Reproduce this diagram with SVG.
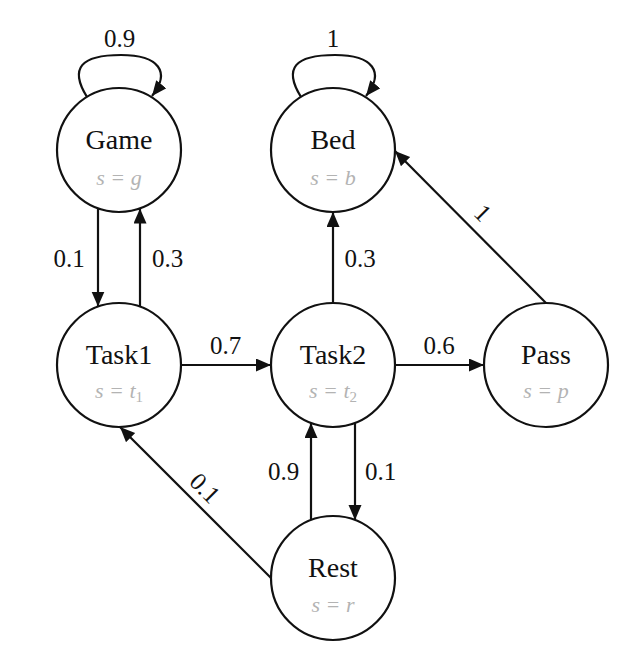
<svg xmlns="http://www.w3.org/2000/svg" width="640" height="647" viewBox="0 0 640 647">
<style>
.node circle{fill:#fff;stroke:#111;stroke-width:2.2}
.name{font-family:'Liberation Serif','Times New Roman',Tinos,'DejaVu Serif',serif;font-size:28px;fill:#111;text-anchor:middle}
.sub{font-family:'Liberation Serif','Times New Roman',Tinos,'DejaVu Serif',serif;font-style:italic;font-size:22px;fill:#b3b3b3;text-anchor:middle}
.edge{fill:none;stroke:#111;stroke-width:2.2;marker-end:url(#arr)}
.lbl{font-family:'Liberation Serif','Times New Roman',Tinos,'DejaVu Serif',serif;font-size:25px;fill:#111;text-anchor:middle}
</style>
<defs>
<marker id="arr" markerUnits="userSpaceOnUse" markerWidth="16" markerHeight="14" refX="15" refY="6.5" orient="auto">
<path d="M0,0 L15,6.5 L0,13 z" fill="#111"/>
</marker>
</defs>
<rect width="640" height="647" fill="#fff"/>
<g id="connectors">
<path class="edge" d="M87,97 C69,68 81,55 121,55 C159,55 171,72 152,96"/>
<path class="edge" d="M301,97 C283,68 295,55 335,55 C373,55 385,72 366,96"/>
<path class="edge" d="M98,208 L98,306.5"/>
<path class="edge" d="M140,306.5 L140,208.5"/>
<path class="edge" d="M181,365 L271,365"/>
<path class="edge" d="M395,365 L484,365"/>
<path class="edge" d="M333,303 L333,212"/>
<path class="edge" d="M546,303 L395,151"/>
<path class="edge" d="M271,578 L120,427"/>
<path class="edge" d="M311,520 L311,423"/>
<path class="edge" d="M355,423 L355,520"/>
<text class="lbl" x="119.5" y="47">0.9</text>
<text class="lbl" x="333" y="47">1</text>
<text class="lbl" x="69" y="267">0.1</text>
<text class="lbl" x="167.5" y="267">0.3</text>
<text class="lbl" x="360" y="267">0.3</text>
<text class="lbl" x="225.5" y="354">0.7</text>
<text class="lbl" x="439" y="354">0.6</text>
<text class="lbl" x="283.5" y="480">0.9</text>
<text class="lbl" x="380.5" y="480">0.1</text>
<text class="lbl" transform="translate(483,213) rotate(45)" x="0" y="8.5">1</text>
<text class="lbl" transform="translate(205,488) rotate(45)" x="0" y="8.5">0.1</text>
</g>
<g id="game" class="node"><circle cx="119" cy="150" r="62"/><text class="name" x="119" y="149">Game</text><text class="sub" x="119" y="185" xml:space="preserve">s = g</text></g>
<g id="bed" class="node"><circle cx="333" cy="150" r="62"/><text class="name" x="333" y="149">Bed</text><text class="sub" x="333" y="185" xml:space="preserve">s = b</text></g>
<g id="task1" class="node"><circle cx="119" cy="365" r="62"/><text class="name" x="119" y="364">Task1</text><text class="sub" x="119" y="398" xml:space="preserve">s = t<tspan font-style="normal" font-size="15" dy="4">1</tspan></text></g>
<g id="task2" class="node"><circle cx="333" cy="365" r="62"/><text class="name" x="333" y="364">Task2</text><text class="sub" x="333" y="398" xml:space="preserve">s = t<tspan font-style="normal" font-size="15" dy="4">2</tspan></text></g>
<g id="pass" class="node"><circle cx="546" cy="365" r="62"/><text class="name" x="546" y="364">Pass</text><text class="sub" x="546" y="398" xml:space="preserve">s = p</text></g>
<g id="rest" class="node"><circle cx="333" cy="578" r="62"/><text class="name" x="333" y="577">Rest</text><text class="sub" x="333" y="612" xml:space="preserve">s = r</text></g>
</svg>
